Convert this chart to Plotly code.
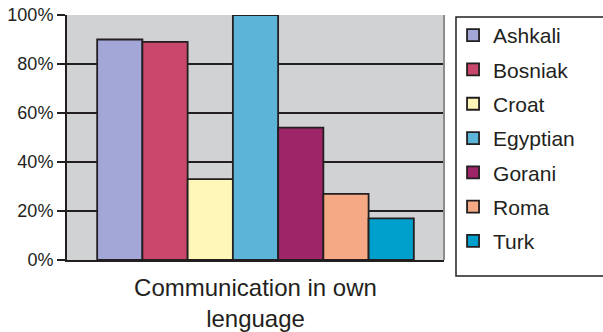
import plotly.graph_objects as go

# Share of each community communicating in its own language (%)
groups = ["Ashkali", "Bosniak", "Croat", "Egyptian", "Gorani", "Roma", "Turk"]
values = [90, 89, 33, 100, 54, 27, 17]
colors = ["#a2a7d8", "#c8476a", "#fff7b9", "#5db4d9", "#9d2568", "#f5a985", "#00a0cc"]
category = ["Communication in own<br>lenguage"]
tick_vals = [0, 20, 40, 60, 80, 100]
tick_text = ["0%", "20%", "40%", "60%", "80%", "100%"]

INK = "#231f20"
FONT = "Liberation Sans, Arial, Helvetica, sans-serif"

fig = go.Figure()
for name, val, col in zip(groups, values, colors):
    fig.add_trace(go.Bar(
        name=name,
        x=category,
        y=[val],
        legendgroup=name,
        marker=dict(color=col, line=dict(color=INK, width=1.8)),
    ))

fig.update_layout(
    width=603,
    height=332,
    autosize=False,
    margin=dict(l=67, r=159, t=15, b=72),
    paper_bgcolor="white",
    plot_bgcolor="#d1d2d4",
    barmode="group",
    bargap=0.16,
    bargroupgap=0,
    font=dict(family=FONT, color=INK),
    showlegend=True,
    legend=dict(
        x=1.024, xanchor="left",
        y=1.0, yanchor="top",
        font=dict(size=21, color=INK, family=FONT),
        bgcolor="rgba(0,0,0,0)",
        borderwidth=0,
        tracegroupgap=4,
        traceorder="grouped",
        maxheight=320,
    ),
    shapes=[
        # frame around the legend
        dict(type="rect", xref="paper", yref="paper",
             x0=1.0318, x1=1.43, y0=-0.0653, y1=0.9918,
             line=dict(color=INK, width=1.5), fillcolor="rgba(0,0,0,0)", layer="above"),
        # right edge of the plot area
        dict(type="line", xref="paper", yref="paper",
             x0=1, x1=1, y0=0, y1=1,
             line=dict(color="#8c8c8c", width=2), layer="above"),
    ],
)

fig.update_yaxes(
    range=[0, 100],
    tickvals=tick_vals,
    ticktext=tick_text,
    showgrid=True,
    gridcolor=INK,
    gridwidth=2,
    zeroline=False,
    showline=True,
    linecolor=INK,
    linewidth=2,
    ticks="outside",
    ticklen=8,
    tickwidth=2,
    tickcolor=INK,
    tickfont=dict(size=18, color=INK, family=FONT),
    automargin=False,
    fixedrange=True,
)
fig.update_xaxes(
    showgrid=False,
    showline=True,
    linecolor=INK,
    linewidth=2,
    ticks="",
    ticklabelstandoff=5,
    tickfont=dict(size=24, color=INK, family=FONT),
    automargin=False,
    fixedrange=True,
)

fig.write_html("out.html")
